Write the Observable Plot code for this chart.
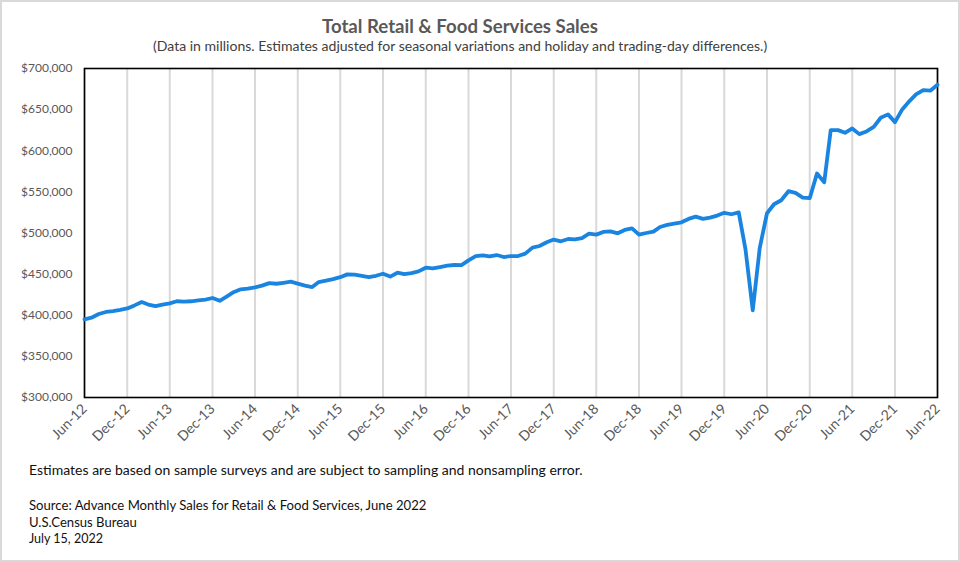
<!DOCTYPE html>
<html>
<head>
<meta charset="utf-8">
<script src="https://cdn.jsdelivr.net/npm/d3@7"></script>
<script src="https://cdn.jsdelivr.net/npm/@observablehq/plot@0.6"></script>
<style>
  html, body { margin: 0; padding: 0; background: #fff; }
  #wrap { position: relative; width: 960px; height: 562px; overflow: hidden; background: #fff; font-family: Lato, "Open Sans", sans-serif; }
  .t { position: absolute; white-space: nowrap; line-height: 1; }
  #title { top: 17px; font-weight: bold; color: #595959; font-size: 19px; }
  #subtitle { top: 39px; color: #404040; font-size: 14px; }
  .foot { left: 29px; color: #111; font-size: 14px; }
  #chart { position: absolute; left: 0; top: 60px; }
  #border { position: absolute; left: 0; top: 0; width: 960px; height: 562px; box-sizing: border-box; border: 2px solid #d9d9d9; pointer-events: none; }
</style>
</head>
<body>
<div id="wrap">
  <div id="title" class="t">Total Retail &amp; Food Services Sales</div>
  <div id="subtitle" class="t">(Data in millions. Estimates adjusted for seasonal variations and holiday and trading-day differences.)</div>
  <div id="chart"></div>
  <div id="f1" class="t foot" style="top:463px">Estimates are based on sample surveys and are subject to sampling and nonsampling error.</div>
  <div id="f2" class="t foot" style="top:499px">Source: Advance Monthly Sales for Retail &amp; Food Services, June 2022</div>
  <div id="f3" class="t foot" style="top:516px">U.S.Census Bureau</div>
  <div id="f4" class="t foot" style="top:533px">July 15, 2022</div>
  <div id="border"></div>
</div>
<script>
// ---- data ----
const firstMonth = "Jun-12";
// Monthly sales, millions of dollars, Jun-12 .. Jun-22
const sales = [
  395000, 397000, 401500, 404000, 405000, 406500, 408300, 412000, 416000, 413000, 411000, 413000,
  414500, 417000, 416500, 417000, 418000, 419000, 421000, 417500, 423000, 428000, 431500, 432500,
  434000, 436000, 439000, 438300, 439500, 440800, 438500, 436000, 434300, 440400, 442000, 444000,
  446300, 449700, 449300, 448000, 446500, 448000, 450500, 447000, 451700, 450000, 451300, 453300,
  457800, 457000, 458600, 460300, 461100, 461000, 466800, 472000, 472800, 471600, 473200, 470800,
  472000, 472000, 474900, 482200, 484200, 488700, 492000, 489900, 492700, 492300, 493900, 499200,
  498000, 501300, 502000, 499600, 503700, 505700, 498000, 500000, 501700, 507300, 509800, 511400,
  513000, 517100, 519900, 517100, 518700, 521200, 524600, 522800, 525000, 480000, 406000, 482000,
  524000, 535000, 539800, 550800, 548800, 543100, 542300, 572300, 561800, 625100, 625100, 621800,
  627100, 620200, 623500, 629100, 640100, 644200, 634800, 650300, 660400, 668500, 673800, 673000,
  680300
];
const xTickLabels = ["Jun-12","Dec-12","Jun-13","Dec-13","Jun-14","Dec-14","Jun-15","Dec-15","Jun-16","Dec-16",
  "Jun-17","Dec-17","Jun-18","Dec-18","Jun-19","Dec-19","Jun-20","Dec-20","Jun-21","Dec-21","Jun-22"];
const yTicks = [300000, 350000, 400000, 450000, 500000, 550000, 600000, 650000, 700000];

// ---- build ----
const parseMonth = d3.utcParse("%b-%y");
const start = parseMonth(firstMonth);
const data = sales.map((v, i) => ({ date: d3.utcMonth.offset(start, i), sales: v }));
const xTicks = xTickLabels.map(parseMonth);

const chart = Plot.plot({
  width: 960,
  height: 400,
  marginLeft: 84,
  marginRight: 23,
  marginTop: 8,
  marginBottom: 63,
  style: { background: "transparent", fontFamily: "Lato, 'Open Sans', sans-serif", fontSize: "12px", color: "#595959", overflow: "visible" },
  x: {
    type: "utc",
    domain: [xTicks[0], xTicks[xTicks.length - 1]],
    label: null
  },
  y: {
    domain: [yTicks[0], yTicks[yTicks.length - 1]],
    ticks: yTicks,
    tickFormat: d3.format("$,"),
    tickSize: 0,
    tickPadding: 12,
    label: null
  },
  marks: [
    Plot.ruleX(xTicks, { stroke: "#d9d9d9", strokeWidth: 2 }),
    Plot.axisX({
      ticks: xTicks,
      tickFormat: d3.utcFormat("%b-%y"),
      tickRotate: -45,
      tickSize: 0,
      tickPadding: 9,
      fontSize: 14,
      label: null
    }),
    Plot.frame({ stroke: "#000", strokeWidth: 1.6 }),
    Plot.lineY(data, { x: "date", y: "sales", stroke: "#1a85e0", strokeWidth: 3.8, strokeLinejoin: "round", strokeLinecap: "round" })
  ]
});
document.getElementById("chart").appendChild(chart);

// fit text blocks to the widths seen in the reference
function fit(id, left, width, center) {
  const el = document.getElementById(id);
  const fs = parseFloat(getComputedStyle(el).fontSize);
  const w = el.getBoundingClientRect().width;
  el.style.fontSize = (fs * width / w) + "px";
  if (center) el.style.left = (center - width / 2) + "px";
  else el.style.left = left + "px";
}
fit("title", 0, 276, 460);
fit("subtitle", 0, 615, 460.5);
fit("f1", 29, 554);
fit("f2", 29, 398);
fit("f3", 29, 108);
fit("f4", 29, 74);
</script>
</body>
</html>
